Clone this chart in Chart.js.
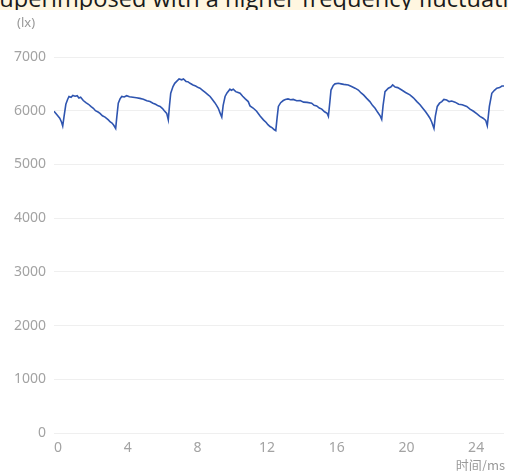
<!DOCTYPE html>
<html>
<head>
<meta charset="utf-8">
<script src="https://cdn.jsdelivr.net/npm/chart.js@4"></script>
<style>
html,body{margin:0;padding:0;background:#fff;}
#wrap{position:relative;width:508px;height:471px;overflow:hidden;}
#banner{position:absolute;left:0;top:0;width:508px;height:10px;overflow:hidden;background:#fff6e0;}
#banner span{position:absolute;left:-12px;top:-17px;font-family:"Open Sans",sans-serif;font-size:23.6px;line-height:30px;color:#1a1a1a;white-space:nowrap;}
canvas{position:absolute;left:0;top:0;}
</style>
</head>
<body>
<div id="wrap">
<canvas id="c" width="508" height="471"></canvas>
<div id="banner"><span>superimposed with a higher frequency fluctuati</span></div>
</div>
<script>
const timeMs = [-0.23,-0.05,0.1,0.2,0.27,0.35,0.45,0.55,0.63,0.75,0.85,0.98,1.1,1.2,1.3,1.45,1.6,1.75,1.9,2.03,2.15,2.3,2.41,2.55,2.7,2.89,3.0,3.1,3.2,3.31,3.38,3.46,3.56,3.66,3.8,3.94,4.1,4.3,4.5,4.7,4.9,5.1,5.28,5.45,5.6,5.75,5.86,6.0,6.1,6.24,6.33,6.4,6.47,6.6,6.7,6.81,6.95,7.1,7.2,7.35,7.45,7.58,7.75,7.9,8.05,8.15,8.3,8.45,8.6,8.73,8.85,9.0,9.1,9.2,9.3,9.4,9.48,9.59,9.7,9.87,9.95,10.06,10.2,10.3,10.45,10.6,10.75,10.92,11.02,11.2,11.4,11.6,11.79,11.95,12.05,12.17,12.3,12.4,12.5,12.58,12.65,12.78,12.93,13.05,13.2,13.35,13.5,13.7,13.9,14.1,14.3,14.56,14.7,14.85,15.0,15.14,15.3,15.45,15.52,15.6,15.67,15.8,15.9,16.09,16.25,16.4,16.66,16.85,17.05,17.24,17.4,17.55,17.72,17.9,18.05,18.2,18.35,18.5,18.58,18.66,18.77,18.96,19.1,19.21,19.35,19.5,19.73,19.95,20.2,20.4,20.6,20.78,20.95,21.1,21.25,21.35,21.45,21.58,21.66,21.77,21.9,22.03,22.15,22.31,22.45,22.6,22.79,23.0,23.2,23.46,23.65,23.85,24.05,24.22,24.4,24.55,24.64,24.7,24.76,24.9,25.05,25.19,25.35,25.48,25.6];
const illuminance = [5990,5920,5860,5790,5715,5900,6120,6210,6265,6250,6285,6270,6280,6235,6250,6190,6150,6120,6075,6045,6000,5975,5950,5905,5880,5830,5790,5770,5730,5670,5900,6140,6220,6265,6255,6280,6260,6250,6240,6230,6215,6185,6170,6140,6120,6090,6080,6040,6000,5950,5830,6100,6325,6450,6510,6545,6590,6575,6590,6545,6540,6510,6480,6460,6430,6420,6380,6340,6300,6265,6215,6150,6100,6045,5960,5880,6100,6265,6330,6400,6380,6400,6355,6345,6325,6270,6220,6170,6090,6050,5990,5900,5830,5780,5740,5705,5680,5650,5630,5880,6080,6150,6190,6210,6220,6205,6210,6185,6190,6160,6155,6140,6100,6090,6050,6030,5980,5950,5895,6150,6385,6470,6500,6510,6500,6490,6480,6450,6420,6385,6330,6290,6230,6170,6100,6045,5970,5900,5840,6100,6355,6420,6440,6480,6440,6430,6385,6340,6295,6240,6170,6110,6040,5980,5910,5860,5790,5670,5900,6080,6140,6170,6210,6200,6170,6180,6160,6120,6110,6080,6030,5990,5940,5895,5860,5820,5720,5900,6080,6325,6380,6420,6430,6460,6460];
const xTicks = [0,4,8,12,16,20,24];
const yTicks = [0,1000,2000,3000,4000,5000,6000,7000];
const yName = '(lx)';
const xName = '时间/ms';

const points = timeMs.map((t,i)=>({x:t,y:illuminance[i]}));

const axisNames = {
  id:'axisNames',
  afterDraw(chart){
    const ctx = chart.ctx;
    ctx.save();
    ctx.fillStyle = '#999';
    ctx.font = '13px "Noto Sans", sans-serif';
    ctx.textBaseline = 'middle';
    ctx.textAlign = 'left';
    ctx.fillText(yName, 17, 23);
    ctx.textAlign = 'right';
    ctx.font = '13px "Noto Sans CJK SC", sans-serif';
    ctx.fillText(xName, 505, 465);
    ctx.restore();
  }
};

new Chart(document.getElementById('c'), {
  type:'line',
  data:{datasets:[{data:points,borderColor:'#2f55b0',borderWidth:1.6,pointRadius:0,tension:0,fill:false}]},
  options:{
    responsive:false,animation:false,
    layout:{padding:{top:57,right:4,left:0,bottom:0}},
    plugins:{legend:{display:false},tooltip:{enabled:false}},
    scales:{
      x:{type:'linear',min:-0.23,max:25.6,
        afterBuildTicks(s){s.ticks = xTicks.map(v=>({value:v}));},
        afterFit(s){s.height = 38;},
        grid:{display:false,drawTicks:false},border:{display:false},
        ticks:{padding:7,color:'#a3a3a3',font:{family:'"Noto Sans", sans-serif',size:14},maxRotation:0,autoSkip:false,callback:v=>String(v)}},
      y:{type:'linear',min:0,max:7000,
        afterBuildTicks(s){s.ticks = yTicks.map(v=>({value:v}));},
        afterFit(s){s.width = 54;},
        grid:{color:'#efefef',drawTicks:false,lineWidth:1},border:{display:false},
        ticks:{padding:8,color:'#a3a3a3',font:{family:'"Noto Sans", sans-serif',size:14},callback:v=>String(v)}}
    }
  },
  plugins:[axisNames]
});
</script>
</body>
</html>
